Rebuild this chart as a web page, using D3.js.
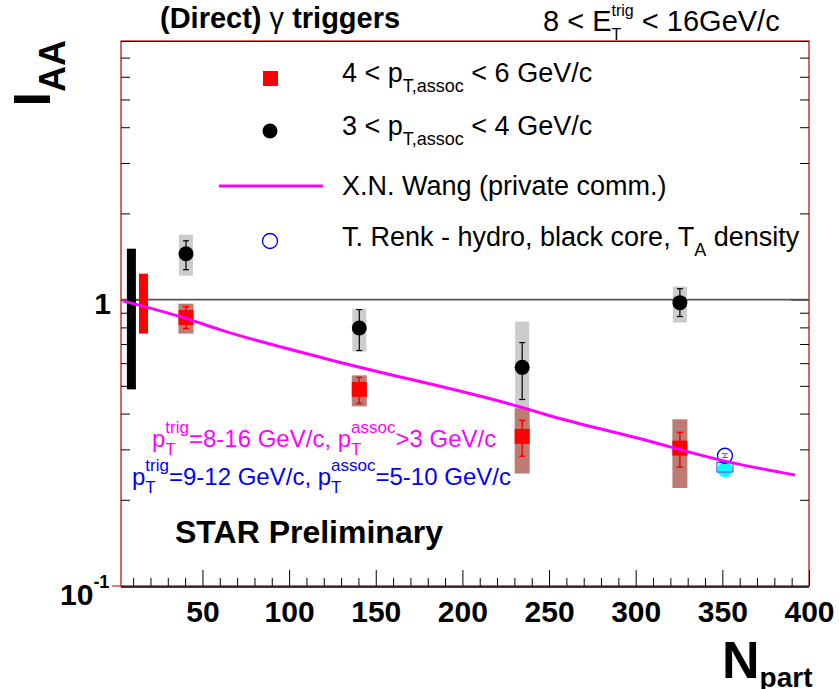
<!DOCTYPE html>
<meta charset="utf-8">
<style>
    body { margin: 0; background: #fff; }
    svg { font-family: "Liberation Sans", Arial, sans-serif; }
    text { white-space: pre; }
</style>
<body>
<script src="https://cdn.jsdelivr.net/npm/d3@7"></script>
<script>
    const width = 839;
    const height = 689;
    const frame = {left: 121, right: 809, top: 41, bottom: 586};

    // centrality bins (N_part)
    const npart = [40.5, 140.5, 234.5, 325.5];

    // 3 < pT,assoc < 4 GeV/c (black circles)
    const iaaLow       = [1.446, 0.796, 0.580, 0.976];
    const iaaLowStatLo = [1.272, 0.664, 0.448, 0.873];
    const iaaLowStatHi = [1.605, 0.923, 0.708, 1.092];
    const iaaLowSysLo  = [1.212, 0.659, 0.414, 0.832];
    const iaaLowSysHi  = [1.685, 0.930, 0.838, 1.110];

    // 4 < pT,assoc < 6 GeV/c (red squares)
    const iaaHigh       = [0.866, 0.486, 0.333, 0.303];
    const iaaHighStatLo = [0.792, 0.434, 0.284, 0.260];
    const iaaHighStatHi = [0.945, 0.535, 0.379, 0.344];
    const iaaHighSysLo  = [0.761, 0.424, 0.247, 0.220];
    const iaaHighSysHi  = [0.968, 0.544, 0.417, 0.382];

    // normalisation uncertainty bars near N_part = 0
    const normNpart = [9, 16];
    const normLo = [0.486, 0.761];
    const normHi = [1.506, 1.232];

    // X.N. Wang calculation
    const wangNpart = [4, 40.5, 60, 123, 234.5, 250, 301.5, 351.5, 392];
    const wangIaa   = [0.99, 0.86, 0.786, 0.618, 0.42, 0.394, 0.328, 0.273, 0.244];

    // T. Renk hydro
    const renkNpart = [351.5];
    const renkOpen = [0.285];
    const renkOpenLo = [0.281];
    const renkOpenHi = [0.290];
    const renkFilled = [0.255];
    const renkSysLo = [0.250];
    const renkSysHi = [0.270];

    const xMajor = [50, 100, 150, 200, 250, 300, 350, 400];
    const xMinor = d3.range(10, 400, 10).filter(v => v % 50 !== 0);
    const yMinor = [0.2, 0.3, 0.4, 0.5, 0.6, 0.7, 0.8, 0.9, 2, 3, 4, 5, 6, 7, 8];

    const svg = d3.select("body").append("svg")
        .attr("width", width)
        .attr("height", height);

    const x = d3.scaleLinear().domain([3, 400]).range([frame.left, frame.right]);
    const y = d3.scaleLog().domain([0.1, 8]).range([frame.bottom, frame.top]);

    // lays out text pieces with sub/superscripts; stack = same x as previous piece
    function richText(parent, x0, y0, parts, opts) {
        opts = opts || {};
        const g = parent.append("g")
            .attr("fill", opts.fill || "#000")
            .attr("font-weight", opts.weight || "normal");
        let cx = 0, prevX = 0;
        parts.forEach(p => {
            const px = p.stack ? prevX : cx;
            const t = g.append("text")
                .attr("x", px)
                .attr("y", p.dy || 0)
                .attr("font-size", p.size)
                .text(p.t);
            if (p.weight) t.attr("font-weight", p.weight);
            const w = t.node().getComputedTextLength();
            if (p.stack) {
                cx = Math.max(cx, px + w);
            } else {
                prevX = px;
                cx = px + w;
            }
        });
        let shift = 0;
        if (opts.anchor === "end") shift = -cx;
        if (opts.anchor === "middle") shift = -cx / 2;
        g.attr("transform", "translate(" + (x0 + shift) + "," + y0 + ")");
        return g;
    }

    // frame
    svg.append("rect")
        .attr("x", frame.left).attr("y", frame.top)
        .attr("width", frame.right - frame.left)
        .attr("height", frame.bottom - frame.top)
        .attr("fill", "none")
        .attr("stroke", "#c00000")
        .attr("stroke-width", 1.2);
    svg.append("line")
        .attr("x1", frame.left).attr("x2", frame.right)
        .attr("y1", frame.bottom + 1).attr("y2", frame.bottom + 1)
        .attr("stroke", "#000").attr("stroke-width", 1.5);
    svg.append("line")
        .attr("x1", frame.left).attr("x2", frame.right)
        .attr("y1", frame.top + 0.5).attr("y2", frame.top + 0.5)
        .attr("stroke", "#222").attr("stroke-width", 1);
    svg.append("line")
        .attr("x1", frame.left - 9).attr("x2", frame.left)
        .attr("y1", y(0.1)).attr("y2", y(0.1))
        .attr("stroke", "#c00000");

    // x axis
    const xAxisMajor = d3.axisBottom(x).tickValues(xMajor).tickSize(-16).tickPadding(15)
        .tickFormat(d3.format("d"));
    const gX = svg.append("g")
        .attr("transform", "translate(0," + frame.bottom + ")")
        .call(xAxisMajor);
    gX.select(".domain").remove();
    gX.selectAll("text")
        .attr("font-family", "Liberation Sans, Arial, sans-serif")
        .attr("font-size", 30)
        .attr("font-weight", "bold")
        .attr("fill", "#000");
    svg.append("g")
        .attr("transform", "translate(0," + frame.bottom + ")")
        .call(d3.axisBottom(x).tickValues(xMinor).tickSize(-8).tickFormat(""))
        .select(".domain").remove();

    // y axis, left and right
    [[d3.axisLeft, frame.left], [d3.axisRight, frame.right]].forEach(([axisFn, xPos]) => {
        const gMaj = svg.append("g")
            .attr("transform", "translate(" + xPos + ",0)")
            .call(axisFn(y).tickValues([1]).tickSize(-18).tickFormat(""));
        gMaj.select(".domain").remove();
        const gMin = svg.append("g")
            .attr("transform", "translate(" + xPos + ",0)")
            .call(axisFn(y).tickValues(yMinor).tickSize(-9).tickFormat(""));
        gMin.select(".domain").remove();
    });

    // y tick labels
    richText(svg, 111, y(1) + 14, [{t: "1", size: 30}], {weight: "bold", anchor: "end"});
    richText(svg, 60, y(0.1) + 19, [
        {t: "10", size: 30},
        {t: "-1", size: 18, dy: -17}
    ], {weight: "bold"});

    // reference line at 1
    svg.append("line")
        .attr("x1", frame.left).attr("x2", frame.right)
        .attr("y1", y(1)).attr("y2", y(1))
        .attr("stroke", "#555").attr("stroke-width", 1.6);

    // normalisation bars
    svg.selectAll(".norm")
        .data(normNpart)
        .enter().append("rect")
        .attr("class", "norm")
        .attr("x", d => x(d) - 4.5)
        .attr("width", 9)
        .attr("y", (d, i) => y(normHi[i]))
        .attr("height", (d, i) => y(normLo[i]) - y(normHi[i]))
        .attr("fill", (d, i) => i === 0 ? "#000" : "#ff0000");

    // systematic boxes
    svg.selectAll(".sysLow")
        .data(npart)
        .enter().append("rect")
        .attr("class", "sysLow")
        .attr("x", d => x(d) - 7)
        .attr("width", 14)
        .attr("y", (d, i) => y(iaaLowSysHi[i]))
        .attr("height", (d, i) => y(iaaLowSysLo[i]) - y(iaaLowSysHi[i]))
        .attr("fill", "#cccccc");
    svg.selectAll(".sysHigh")
        .data(npart)
        .enter().append("rect")
        .attr("class", "sysHigh")
        .attr("x", d => x(d) - 7.5)
        .attr("width", 15)
        .attr("y", (d, i) => y(iaaHighSysHi[i]))
        .attr("height", (d, i) => y(iaaHighSysLo[i]) - y(iaaHighSysHi[i]))
        .attr("fill", "#bd7b72");

    function errorBars(cls, lo, hi, color, w) {
        const g = svg.selectAll("." + cls)
            .data(npart)
            .enter().append("g")
            .attr("class", cls)
            .attr("stroke", color)
            .attr("stroke-width", w);
        g.append("line")
            .attr("x1", d => x(d)).attr("x2", d => x(d))
            .attr("y1", (d, i) => y(hi[i])).attr("y2", (d, i) => y(lo[i]));
        g.append("line")
            .attr("x1", d => x(d) - 3).attr("x2", d => x(d) + 3)
            .attr("y1", (d, i) => y(hi[i])).attr("y2", (d, i) => y(hi[i]));
        g.append("line")
            .attr("x1", d => x(d) - 3).attr("x2", d => x(d) + 3)
            .attr("y1", (d, i) => y(lo[i])).attr("y2", (d, i) => y(lo[i]));
    }
    errorBars("statLow", iaaLowStatLo, iaaLowStatHi, "#000", 1.2);
    errorBars("statHigh", iaaHighStatLo, iaaHighStatHi, "#ff0000", 1.5);

    svg.selectAll(".ptLow")
        .data(npart)
        .enter().append("circle")
        .attr("class", "ptLow")
        .attr("cx", d => x(d))
        .attr("cy", (d, i) => y(iaaLow[i]))
        .attr("r", 7.5)
        .attr("fill", "#000");
    svg.selectAll(".ptHigh")
        .data(npart)
        .enter().append("rect")
        .attr("class", "ptHigh")
        .attr("x", d => x(d) - 7.5)
        .attr("y", (d, i) => y(iaaHigh[i]) - 7.5)
        .attr("width", 15)
        .attr("height", 15)
        .attr("fill", "#ff0000");

    // Renk
    svg.selectAll(".renkFill")
        .data(renkNpart)
        .enter().append("circle")
        .attr("class", "renkFill")
        .attr("cx", d => x(d))
        .attr("cy", (d, i) => y(renkFilled[i]))
        .attr("r", 7.5)
        .attr("fill", "#00ffff");
    svg.selectAll(".renkSys")
        .data(renkNpart)
        .enter().append("rect")
        .attr("class", "renkSys")
        .attr("x", d => x(d) - 8)
        .attr("width", 16)
        .attr("y", (d, i) => y(renkSysHi[i]))
        .attr("height", (d, i) => y(renkSysLo[i]) - y(renkSysHi[i]))
        .attr("fill", "none")
        .attr("stroke", "#5555ff")
        .attr("stroke-width", 1.2);
    svg.selectAll(".renkOpen")
        .data(renkNpart)
        .enter().append("circle")
        .attr("class", "renkOpen")
        .attr("cx", d => x(d))
        .attr("cy", (d, i) => y(renkOpen[i]))
        .attr("r", 7.5)
        .attr("fill", "none")
        .attr("stroke", "#0000ff")
        .attr("stroke-width", 1.3);
    svg.selectAll(".renkErr")
        .data(renkNpart)
        .enter().append("path")
        .attr("class", "renkErr")
        .attr("d", (d, i) => "M" + (x(d) - 3) + "," + y(renkOpenHi[i]) + "H" + (x(d) + 3)
            + "M" + x(d) + "," + y(renkOpenHi[i]) + "V" + y(renkOpenLo[i])
            + "M" + (x(d) - 3) + "," + y(renkOpenLo[i]) + "H" + (x(d) + 3))
        .attr("stroke", "#5555ff")
        .attr("stroke-width", 1);

    // Wang curve
    const wangLine = d3.line()
        .x(d => x(d[0]))
        .y(d => y(d[1]))
        .curve(d3.curveMonotoneX);
    svg.append("path")
        .datum(d3.zip(wangNpart, wangIaa))
        .attr("d", wangLine)
        .attr("fill", "none")
        .attr("stroke", "#ff00ff")
        .attr("stroke-width", 3);

    // legend
    const legX = 342;
    svg.append("rect")
        .attr("x", 263).attr("y", 71).attr("width", 15).attr("height", 15)
        .attr("fill", "#ff0000");
    richText(svg, legX, 82, [
        {t: "4 < p", size: 27},
        {t: "T,assoc", size: 18, dy: 10},
        {t: " < 6 GeV/c", size: 27}
    ]);
    svg.append("circle")
        .attr("cx", 270).attr("cy", 131).attr("r", 7.5)
        .attr("fill", "#000");
    richText(svg, legX, 135, [
        {t: "3 < p", size: 27},
        {t: "T,assoc", size: 18, dy: 10},
        {t: " < 4 GeV/c", size: 27}
    ]);
    svg.append("line")
        .attr("x1", 219).attr("x2", 323)
        .attr("y1", 186).attr("y2", 186)
        .attr("stroke", "#ff00ff").attr("stroke-width", 3);
    richText(svg, legX, 195, [{t: "X.N. Wang (private comm.)", size: 27}]);
    svg.append("circle")
        .attr("cx", 270).attr("cy", 241).attr("r", 7.5)
        .attr("fill", "none")
        .attr("stroke", "#0000ff")
        .attr("stroke-width", 1.3);
    richText(svg, legX, 246, [
        {t: "T. Renk - hydro, black core, T", size: 27},
        {t: "A", size: 18, dy: 10},
        {t: " density", size: 27}
    ]);

    // titles
    richText(svg, 160, 28, [
        {t: "(Direct) ", size: 29, weight: "bold"},
        {t: "\u03b3", size: 29, weight: "normal"},
        {t: " triggers", size: 29, weight: "bold"}
    ]);
    richText(svg, 543, 31, [
        {t: "8 < E", size: 29},
        {t: "trig", size: 16, dy: -15},
        {t: "T", size: 16, dy: 9, stack: true},
        {t: " < 16GeV/c", size: 29}
    ]);

    // annotations
    richText(svg, 152, 447, [
        {t: "p", size: 24},
        {t: "trig", size: 17, dy: -14},
        {t: "T", size: 17, dy: 8, stack: true},
        {t: "=8-16 GeV/c, p", size: 24},
        {t: "assoc", size: 17, dy: -14},
        {t: "T", size: 17, dy: 8, stack: true},
        {t: ">3 GeV/c", size: 24}
    ], {fill: "#ff00ff"});
    richText(svg, 132, 485, [
        {t: "p", size: 24},
        {t: "trig", size: 17, dy: -14},
        {t: "T", size: 17, dy: 8, stack: true},
        {t: "=9-12 GeV/c, p", size: 24},
        {t: "assoc", size: 17, dy: -14},
        {t: "T", size: 17, dy: 8, stack: true},
        {t: "=5-10 GeV/c", size: 24}
    ], {fill: "#0000ff"});

    richText(svg, 175, 543, [{t: "STAR Preliminary", size: 32}], {weight: "bold"});

    // axis titles
    svg.append("text")
        .attr("transform", "translate(50,40) rotate(-90)")
        .attr("text-anchor", "end")
        .attr("font-weight", "bold")
        .call(t => {
            t.append("tspan").attr("font-size", 52).text("I");
            t.append("tspan").attr("font-size", 36).attr("dy", 15).text("AA");
        });
    richText(svg, 722, 678, [
        {t: "N", size: 52},
        {t: "part", size: 28, dy: 9}
    ], {weight: "bold"});
</script>
</body>
